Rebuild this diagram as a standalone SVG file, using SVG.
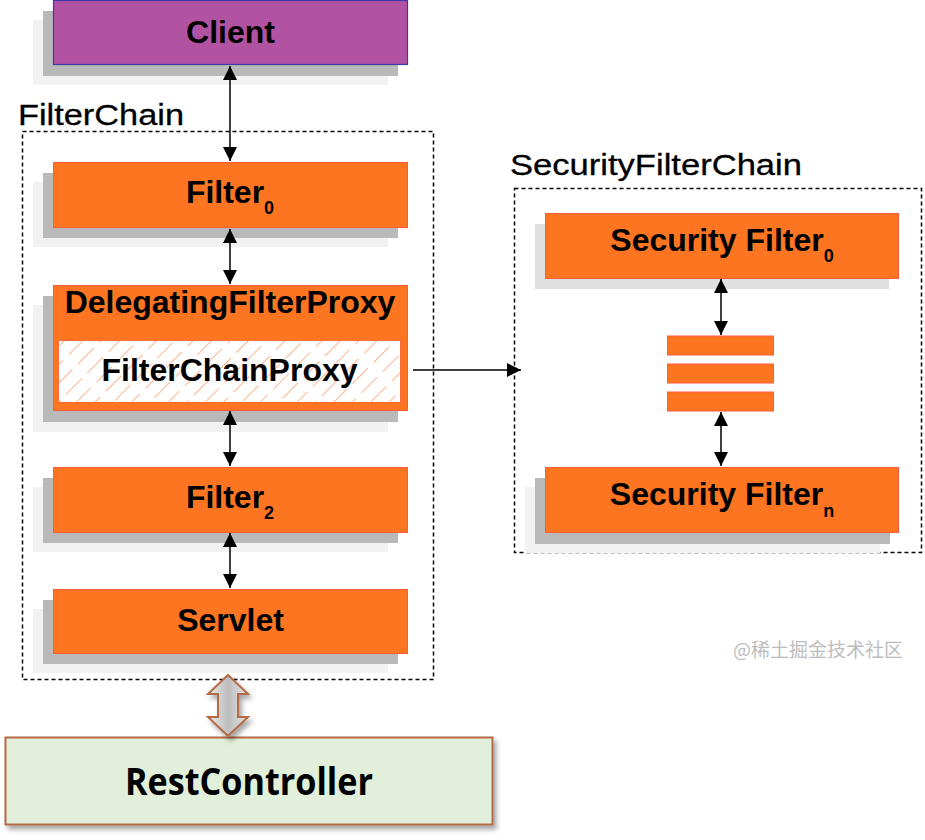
<svg xmlns="http://www.w3.org/2000/svg" width="925" height="840" viewBox="0 0 925 840">
<defs>
<style>
.lbl{font-family:"Liberation Sans",Arial,sans-serif;font-weight:bold;font-size:32px;fill:#000;text-anchor:middle}
.sub{font-size:18px}
.ttl{font-family:"Liberation Sans",Arial,sans-serif;font-size:30px;fill:#000;stroke:#000;stroke-width:0.3}
.org{fill:#fd7421;stroke:#ff5a3a;stroke-width:1}
.sh1{fill:#b9b9b9}
.sh2{fill:#f2f2f2}
.dash{fill:none;stroke:#000;stroke-width:1.5;stroke-dasharray:4,3}
.conn{stroke:#000;stroke-width:1.5;fill:none}
</style>
<marker id="ah" viewBox="0 0 14 14" refX="14" refY="7" markerWidth="14" markerHeight="14" markerUnits="userSpaceOnUse" orient="auto-start-reverse">
<path d="M0,0 L14,7 L0,14 Z" fill="#000"/>
</marker>
<pattern id="hatch" patternUnits="userSpaceOnUse" width="13" height="30" patternTransform="rotate(45)">
<rect width="13" height="30" fill="#fff"/>
<line x1="0" y1="0" x2="0" y2="22" stroke="#ff8a52" stroke-width="1.3"/>
</pattern>
<linearGradient id="bg" x1="0" y1="0" x2="1" y2="0">
<stop offset="0" stop-color="#ececec"/>
<stop offset="0.5" stop-color="#bdbdbd"/>
<stop offset="1" stop-color="#e6e6e6"/>
</linearGradient>
<filter id="ds" x="-10%" y="-10%" width="130%" height="140%">
<feDropShadow dx="3" dy="4" stdDeviation="2.5" flood-color="#000" flood-opacity="0.35"/>
</filter>
</defs>

<rect width="925" height="840" fill="#fff"/>

<!-- containers -->
<g id="filterchain">
<text class="ttl" x="18" y="125" textLength="166" lengthAdjust="spacingAndGlyphs">FilterChain</text>
<rect class="dash" x="22.5" y="131.5" width="411" height="548"/>
</g>
<g id="securityfilterchain">
<text class="ttl" x="510" y="175" textLength="292" lengthAdjust="spacingAndGlyphs">SecurityFilterChain</text>
<rect class="dash" x="514.5" y="188.5" width="407" height="364"/>
</g>

<!-- nodes -->
<g id="client">
<rect class="sh2" x="33" y="20" width="355" height="65"/>
<rect class="sh1" x="43" y="11" width="355" height="65"/>
<rect x="53.5" y="0.5" width="354" height="64" fill="#b252a3" stroke="#3a3aa8" stroke-width="1.2"/>
<text class="lbl" x="230.5" y="43">Client</text>
</g>

<g id="filter0">
<rect class="sh2" x="33" y="182" width="355" height="65"/>
<rect class="sh1" x="43" y="173" width="355" height="65"/>
<rect class="org" x="53.5" y="162.5" width="354" height="65"/>
<text class="lbl" x="230" y="203">Filter<tspan class="sub" dy="11">0</tspan></text>
</g>

<g id="delegatingfilterproxy">
<rect class="sh2" x="33" y="305" width="355" height="127"/>
<rect class="sh1" x="43" y="296" width="355" height="126"/>
<rect class="org" x="53.5" y="285.5" width="354" height="125"/>
<text class="lbl" x="230" y="313">DelegatingFilterProxy</text>
<g id="filterchainproxy">
<rect x="58.5" y="340.5" width="342" height="62" fill="url(#hatch)" stroke="#ff6a3a" stroke-width="1"/>
<text class="lbl" x="229.5" y="381">FilterChainProxy</text>
</g>
</g>

<g id="filter2">
<rect class="sh2" x="33" y="487" width="355" height="65"/>
<rect class="sh1" x="43" y="478" width="355" height="65"/>
<rect class="org" x="53.5" y="467.5" width="354" height="65"/>
<text class="lbl" x="230" y="508">Filter<tspan class="sub" dy="11">2</tspan></text>
</g>

<g id="servlet">
<rect class="sh2" x="33" y="609" width="355" height="64"/>
<rect class="sh1" x="43" y="600" width="355" height="64"/>
<rect class="org" x="53.5" y="589.5" width="354" height="64"/>
<text class="lbl" x="230.5" y="631">Servlet</text>
</g>

<g id="securityfilter0">
<rect fill="#e0e0e0" x="535" y="224" width="354" height="65"/>
<rect class="org" x="545.5" y="213.5" width="353" height="65"/>
<text class="lbl" x="722" y="251">Security Filter<tspan class="sub" dy="11">0</tspan></text>
</g>

<g id="securityfiltern">
<rect class="sh2" x="525" y="487" width="355" height="66"/>
<rect class="sh1" x="535" y="478" width="355" height="66"/>
<rect class="org" x="545.5" y="467.5" width="353" height="65"/>
<text class="lbl" x="722" y="505">Security Filter<tspan class="sub" dy="12">n</tspan></text>
</g>

<g id="filterstack">
<rect class="org" x="667.5" y="336" width="106" height="19"/>
<rect class="org" x="667.5" y="364" width="106" height="19"/>
<rect class="org" x="667.5" y="392" width="106" height="19"/>
</g>

<g id="restcontroller">
<rect x="5.5" y="737.5" width="487" height="87" fill="#e2efda" stroke="#b46a45" stroke-width="2" filter="url(#ds)"/>
<text x="249" y="795" font-family="'Open Sans','Liberation Sans',sans-serif" font-weight="bold" font-size="37" text-anchor="middle" textLength="248" lengthAdjust="spacingAndGlyphs">RestController</text>
</g>

<!-- connectors -->
<g id="connectors">
<line class="conn" x1="230" y1="66" x2="230" y2="161" marker-start="url(#ah)" marker-end="url(#ah)"/>
<line class="conn" x1="230" y1="229" x2="230" y2="284" marker-start="url(#ah)" marker-end="url(#ah)"/>
<line class="conn" x1="230" y1="411" x2="230" y2="466" marker-start="url(#ah)" marker-end="url(#ah)"/>
<line class="conn" x1="230" y1="533" x2="230" y2="588" marker-start="url(#ah)" marker-end="url(#ah)"/>
<line class="conn" x1="413" y1="370" x2="521" y2="370" marker-end="url(#ah)"/>
<line class="conn" x1="721" y1="279" x2="721" y2="335" marker-start="url(#ah)" marker-end="url(#ah)"/>
<line class="conn" x1="721" y1="412" x2="721" y2="466" marker-start="url(#ah)" marker-end="url(#ah)"/>
<path d="M228,675 L248,694 L238,694 L238,717 L248,717 L228,736 L208,717 L218,717 L218,694 L208,694 Z" fill="url(#bg)" stroke="#b46a45" stroke-width="2" stroke-linejoin="miter" filter="url(#ds)"/>
</g>

<text x="733" y="657" font-family="'Noto Sans CJK SC','Noto Sans',sans-serif" font-size="19" fill="#bdbdbd">@稀土掘金技术社区</text>
</svg>
